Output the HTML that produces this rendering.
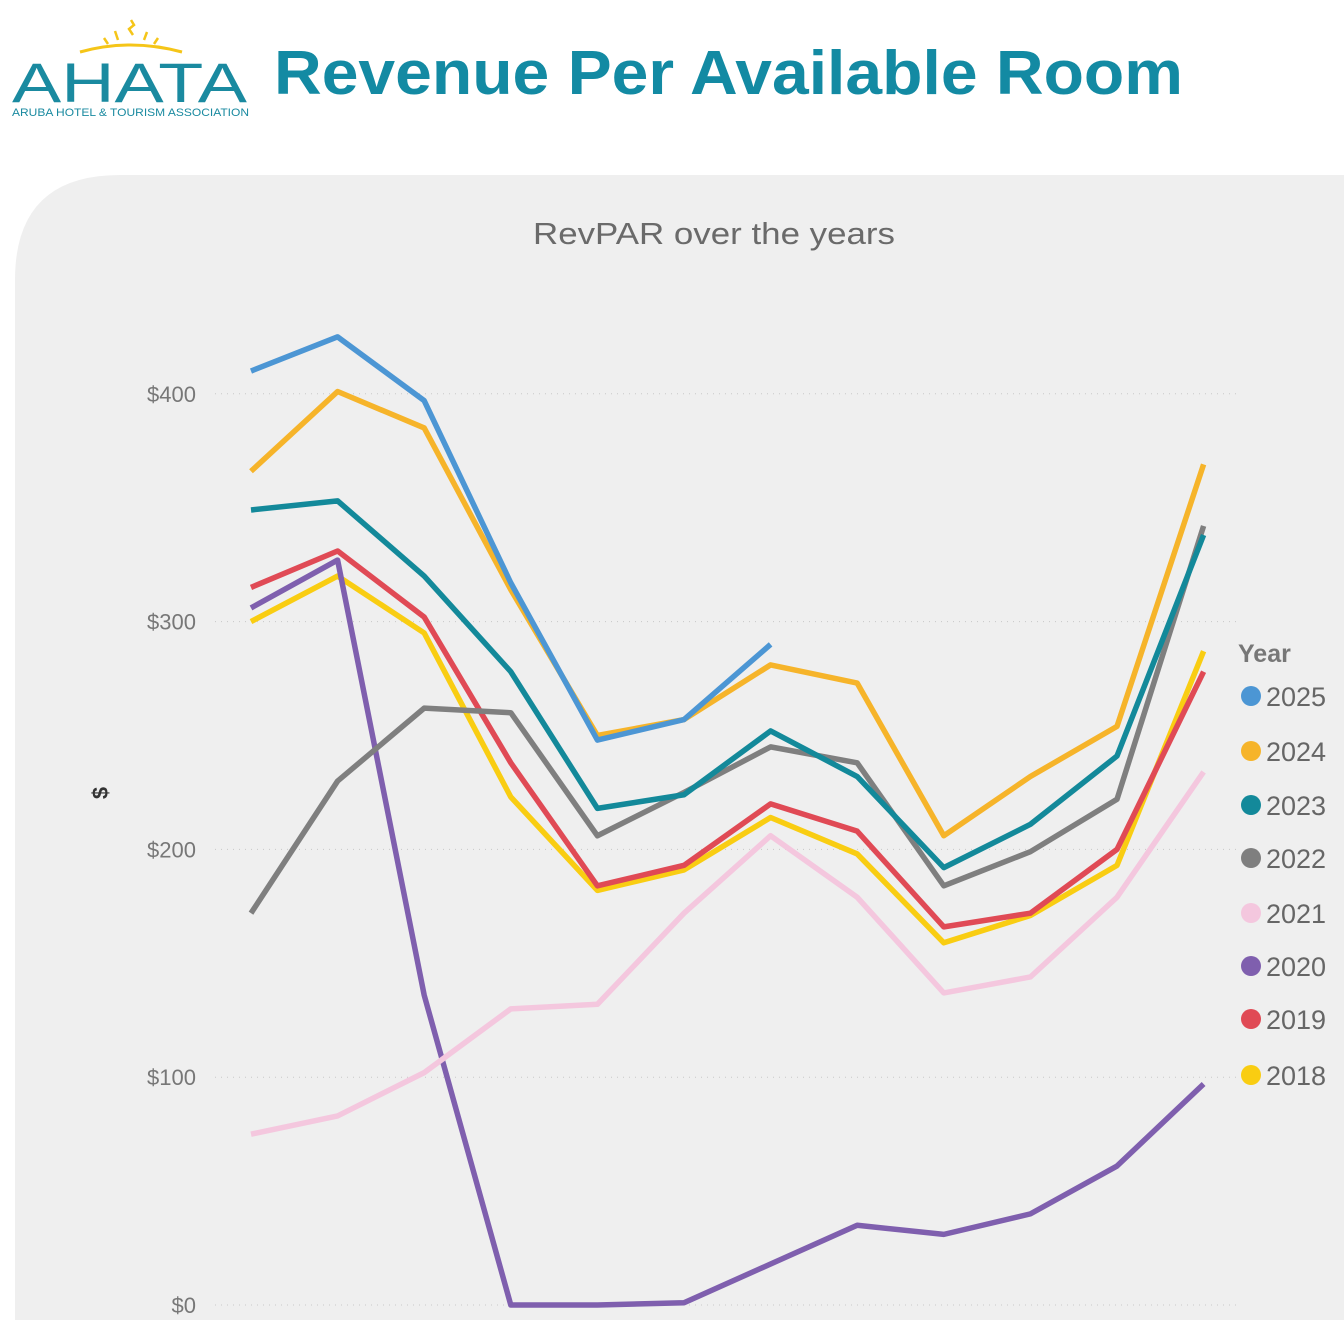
<!DOCTYPE html>
<html><head><meta charset="utf-8"><style>
body{margin:0;width:1344px;height:1320px;overflow:hidden;background:#fff;font-family:"Liberation Sans",sans-serif;}
</style></head><body>
<svg width="1344" height="1320" xmlns="http://www.w3.org/2000/svg">
<g>
<path d="M80 52 Q130 38 182 52" stroke="#f5c518" stroke-width="3" fill="none"/>
<g stroke="#f5c518" stroke-width="2.5" fill="none">
<line x1="108" y1="44" x2="104" y2="38"/><line x1="118" y1="40" x2="115" y2="31"/>
<path d="M131 20 L134 25 L129 29 L133 35"/><line x1="144" y1="40" x2="147" y2="32"/><line x1="154" y1="44" x2="158" y2="38"/>
</g>
<text x="12" y="102" font-size="56" fill="#1a8aa0" textLength="235" lengthAdjust="spacingAndGlyphs">AHATA</text>
<text x="12" y="116" font-size="11" fill="#1a8aa0" textLength="237" lengthAdjust="spacingAndGlyphs">ARUBA HOTEL &amp; TOURISM ASSOCIATION</text>
</g>
<text x="274" y="94" font-size="62" font-weight="bold" fill="#138aa3" textLength="909" lengthAdjust="spacingAndGlyphs">Revenue Per Available Room</text>
<path d="M15 1320 V280 Q15 175 120 175 H1344 V1320 Z" fill="#efefef"/>
<text x="533" y="244" font-size="31" fill="#6a6a6a" textLength="362" lengthAdjust="spacingAndGlyphs">RevPAR over the years</text>
<text x="0" y="0" transform="translate(108,793) rotate(-90)" text-anchor="middle" font-size="22" font-weight="bold" fill="#333">$</text>
<g id="grid"></g><g id="lines"></g><g id="legend"></g>
</svg>
<script>
const months=["Jan","Feb","Mar","Apr","May","Jun","Jul","Aug","Sep","Oct","Nov","Dec"];
const yTicks=[0,100,200,300,400];
const years=["2025","2024","2023","2022","2021","2020","2019","2018"];
const colors=["#4c96d4","#f6b42a","#13899a","#7f7f7f","#f4c7de","#7f5fae","#e04a55","#f9cd12"];
const v2025=[410,425,397,317,248,257,290];
const v2024=[366,401,385,314,250,257,281,273,206,232,254,369];
const v2023=[349,353,320,278,218,224,252,232,192,211,241,338];
const v2022=[172,230,262,260,206,225,245,238,184,199,222,342];
const v2021=[75,83,102,130,132,172,206,179,137,144,179,234];
const v2020=[306,327,136,0,0,1,18,35,31,40,61,97];
const v2019=[315,331,302,238,184,193,220,208,166,172,200,278];
const v2018=[300,320,295,223,182,191,214,198,159,171,193,287];
const series=[v2018,v2019,v2020,v2021,v2022,v2023,v2024,v2025];
const seriesYears=["2018","2019","2020","2021","2022","2023","2024","2025"];
const X=i=>251+i*86.6, Y=v=>1305-v*2.278;
const NS="http://www.w3.org/2000/svg";
const grid=document.getElementById('grid');
yTicks.forEach(t=>{
 const l=document.createElementNS(NS,'line');
 l.setAttribute('x1',215);l.setAttribute('x2',1240);l.setAttribute('y1',Y(t));l.setAttribute('y2',Y(t));
 l.setAttribute('stroke','#c8c8c8');l.setAttribute('stroke-dasharray','1 5');
 
 
 grid.appendChild(l);
 const tx=document.createElementNS(NS,'text');
 tx.setAttribute('x',196);tx.setAttribute('y',Y(t)+8);tx.setAttribute('text-anchor','end');
 tx.setAttribute('font-size','22');tx.setAttribute('fill','#777');tx.textContent='$'+t;
 
 
 grid.appendChild(tx);
});
const lines=document.getElementById('lines');
series.forEach((s,k)=>{
 const yr=seriesYears[k];const c=colors[years.indexOf(yr)];
 const p=document.createElementNS(NS,'polyline');
 p.setAttribute('points',s.map((v,i)=>X(i)+','+Y(v)).join(' '));
 p.setAttribute('fill','none');p.setAttribute('stroke',c);p.setAttribute('stroke-width','5.5');p.setAttribute('stroke-linejoin','round');
 
 
 lines.appendChild(p);
});
const lg=document.getElementById('legend');
const h=document.createElementNS(NS,'text');
h.setAttribute('x',1238);h.setAttribute('y',662);h.setAttribute('font-size','25');h.setAttribute('font-weight','bold');h.setAttribute('fill','#777');h.textContent='Year';


lg.appendChild(h);
const ly=[696,751,805,858,913,966,1019,1075];
years.forEach((yr,i)=>{
 const c=document.createElementNS(NS,'circle');
 c.setAttribute('cx',1251);c.setAttribute('cy',ly[i]);c.setAttribute('r',10);c.setAttribute('fill',colors[i]);
 
 
 lg.appendChild(c);
 const t=document.createElementNS(NS,'text');
 t.setAttribute('x',1266);t.setAttribute('y',ly[i]+10);t.setAttribute('font-size','27');t.setAttribute('fill','#666');t.textContent=yr;
 
 
 lg.appendChild(t);
});
</script>
</body></html>
